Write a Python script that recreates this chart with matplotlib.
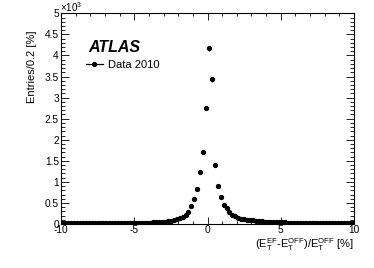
import numpy as np
import matplotlib
matplotlib.use("Agg")
import matplotlib.pyplot as plt
from matplotlib.lines import Line2D
from matplotlib.ticker import MultipleLocator

plt.rcParams['font.family'] = ['Liberation Sans', 'DejaVu Sans']
plt.rcParams['mathtext.default'] = 'regular'
plt.rcParams['axes.unicode_minus'] = False

# bin centres (0.2 % wide bins) and entries in units of 10^3
centres = np.round(np.arange(-9.9, 10.0, 0.2), 1)
entries = [
    # -9.9 ... -6.1
    0.012, 0.012, 0.013, 0.012, 0.013, 0.013, 0.014, 0.013, 0.014, 0.014,
    0.015, 0.014, 0.015, 0.016, 0.015, 0.016, 0.017, 0.016, 0.018, 0.018,
    # -5.9 ... -2.1
    0.019, 0.019, 0.020, 0.021, 0.022, 0.023, 0.025, 0.026, 0.028, 0.030,
    0.033, 0.036, 0.040, 0.045, 0.050, 0.058, 0.066, 0.078, 0.092, 0.110,
    # -1.9 ... 1.9
    0.135, 0.165, 0.215, 0.280, 0.420, 0.590, 0.820, 1.240, 1.720, 2.750,
    4.170, 3.440, 1.410, 0.900, 0.630, 0.450, 0.370, 0.280, 0.220, 0.180,
    # 2.1 ... 5.9
    0.150, 0.130, 0.115, 0.100, 0.090, 0.095, 0.078, 0.070, 0.064, 0.058,
    0.054, 0.050, 0.046, 0.043, 0.040, 0.038, 0.036, 0.035, 0.033, 0.032,
    # 6.1 ... 9.9
    0.031, 0.030, 0.029, 0.028, 0.028, 0.027, 0.026, 0.026, 0.028, 0.025,
    0.024, 0.024, 0.023, 0.023, 0.022, 0.022, 0.021, 0.021, 0.020, 0.022,
]
entries = np.array(entries)
bin_half = 0.1
stat_err = np.sqrt(entries * 1000.0) / 1000.0

fig = plt.figure(figsize=(3.74, 2.68), dpi=100)
ax = fig.add_axes([61 / 374, 1 - 224 / 268, 293 / 374, 210.7 / 268])

ax.errorbar(centres, entries, xerr=bin_half, yerr=stat_err, fmt='o', color='black',
            ms=2.8, elinewidth=0.9, capsize=0)

ax.set_xlim(-10, 10)
ax.set_ylim(0, 5)
ax.xaxis.set_major_locator(MultipleLocator(5))
ax.xaxis.set_minor_locator(MultipleLocator(1))
ax.yaxis.set_major_locator(MultipleLocator(0.5))
ax.yaxis.set_minor_locator(MultipleLocator(0.1))
ax.yaxis.set_major_formatter(plt.FuncFormatter(lambda v, p: '%g' % v))
ax.tick_params(which='both', direction='in', top=True, right=True, labelsize=7.3,
               width=0.6, colors='black')
ax.tick_params(axis='y', which='major', length=6, pad=1.5)
ax.tick_params(axis='y', which='minor', length=3)
ax.tick_params(axis='x', which='major', length=5, pad=1)
ax.tick_params(axis='x', which='minor', length=2.5)
for s in ax.spines.values():
    s.set_linewidth(0.8)

fig.text(60 / 374, 1 - 12 / 268, r'$\times10^{3}$', fontsize=7, ha='left', va='baseline')

ax.text(1.0, -0.113, r'$(E_T^{EF}$-$E_T^{OFF})/E_T^{OFF}$ [%]', transform=ax.transAxes,
        ha='right', va='baseline', fontsize=8)
fig.text(32 / 374, 1 - 30.5 / 268, 'Entries/0.2 [%]', rotation=90, ha='center', va='top',
         fontsize=8)

ax.text(88 / 374, 1 - 52.5 / 268, 'ATLAS', transform=fig.transFigure, fontsize=11.5,
        fontweight='bold', fontstyle='italic', va='baseline')

handle = Line2D([], [], color='black', marker='o', ms=2.8, lw=0.9)
ax.legend([handle], ['Data 2010'], loc='upper left', bbox_to_anchor=(86 / 374, 1 - 60 / 268),
          bbox_transform=fig.transFigure, frameon=False, fontsize=8, handlelength=1.5,
          handletextpad=0.5, borderpad=0, borderaxespad=0)

fig.savefig('out.png', dpi=100)
